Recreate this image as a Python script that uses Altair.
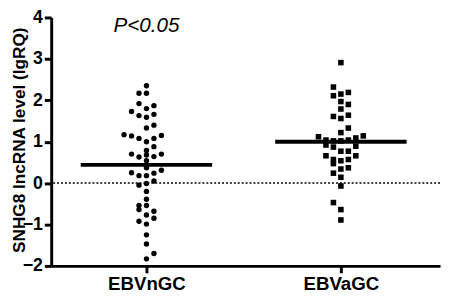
import altair as alt
import pandas as pd

# ---- data ----
categories = ["EBVnGC", "EBVaGC"]

ebvn_values = [2.35, 2.17, 2.17, 1.92, 1.87, 1.73, 1.80, 1.63, 1.59, 1.66,
               1.33, 1.40, 1.17, 1.14, 1.08, 1.00, 1.08, 1.15, 0.79, 0.88,
               0.70, 0.63, 0.68, 0.64, 0.70, 0.54, 0.37, 0.25, 0.18, 0.18,
               0.24, 0.31, -0.01, 0.05, -0.05, -0.20, -0.39, -0.54, -0.54, -0.64,
               -0.77, -0.68, -0.85, -0.92, -0.99, -1.25, -1.47, -1.83, -1.70]
ebvn_slots = [0, -1, 0, -1, 1, -2, 0, -1, 0, 1,
              0, 1, -3, -2, -1, 0, 1, 2, 0, 1,
              -2, -1, 0, 1, 2, 0, 0, -2, -1, 0,
              1, 2, 0, 1, -1, 0, 0, -1, 0, -1,
              0, 1, 1, -1, 0, 0, 0, 0, 1]

ebva_values = [2.91, 2.32, 2.11, 2.15, 2.19, 1.97, 1.90, 1.79, 1.61, 1.56,
               1.64, 1.33, 1.22, 1.12, 1.14, 1.04, 1.02, 1.02, 1.04, 1.09,
               0.92, 0.87, 0.89, 0.77, 0.77, 0.66, 0.66, 0.57, 0.54, 0.57,
               0.47, 0.34, 0.37, 0.24, 0.14, -0.07, -0.47, -0.64, -0.89]
ebva_slots = [0, -1, -1, 0, 1, 0, 1, 0, -1, 0,
              1, 1, 0, -3, 3, -2, -1, 0, 1, 2,
              -2, -1, 2, 0, 1, -2, 2, -1, 0, 1,
              -1, 0, 1, -1, 0, 0, -1, 0, 0]

group_means = [0.44, 1.00]
annotation = "P<0.05"

# ---- build tables ----
STEP = 0.0384
HALF = 0.338
W, H = 396, 253

pts_n = pd.DataFrame({"group": 1, "value": ebvn_values, "slot": ebvn_slots})
pts_a = pd.DataFrame({"group": 2, "value": ebva_values, "slot": ebva_slots})
mean_df = pd.DataFrame({"group": [1, 2], "mean": group_means})
zero_df = pd.DataFrame({"y": [0]})
ann_df = pd.DataFrame({"x": [1], "y": [3.8], "t": [annotation]})

FONT = "Liberation Sans"

xscale = alt.Scale(domain=[0.51, 2.51], nice=False, zero=False)
yscale = alt.Scale(domain=[-2, 4], nice=False, zero=False)

label_expr = "datum.value == 1 ? '%s' : '%s'" % (categories[0], categories[1])

xaxis = alt.Axis(values=[1, 2], labelExpr=label_expr, title=None, grid=False,
                 domainWidth=3, domainColor="black", tickWidth=3, tickSize=7,
                 tickColor="black", labelFont=FONT, labelFontSize=19,
                 labelFontWeight="bold", labelColor="black", labelPadding=2)
yaxis = alt.Axis(values=[-2, -1, 0, 1, 2, 3, 4], title="SNHG8 lncRNA level (lgRQ)",
                 grid=False, domainWidth=3, domainColor="black", tickWidth=3,
                 tickSize=7, tickColor="black", labelFont=FONT, labelFontSize=18,
                 labelFontWeight="bold", labelColor="black", labelPadding=2,
                 titleFont=FONT, titleFontSize=17.5, titleFontWeight="bold",
                 titleColor="black", titleAngle=270, titleX=-32, titleY=H / 2 - 2,
                 titleAlign="center", titleBaseline="middle")

dots = alt.Chart(pts_n).transform_calculate(
    xpos="datum.group + datum.slot * %f" % STEP
).mark_circle(size=30, opacity=1, color="black").encode(
    x=alt.X("xpos:Q", scale=xscale, axis=xaxis),
    y=alt.Y("value:Q", scale=yscale, axis=yaxis),
)

squares = alt.Chart(pts_a).transform_calculate(
    xpos="datum.group + datum.slot * %f" % STEP
).mark_square(size=32, opacity=1, color="black").encode(
    x=alt.X("xpos:Q", scale=xscale),
    y=alt.Y("value:Q", scale=yscale),
)

means = alt.Chart(mean_df).transform_calculate(
    x1="datum.group - %f" % HALF, x2="datum.group + %f" % HALF
).mark_rule(color="black", strokeWidth=4).encode(
    x=alt.X("x1:Q", scale=xscale),
    x2="x2:Q",
    y=alt.Y("mean:Q", scale=yscale),
)

zero = alt.Chart(zero_df).mark_rule(color="black", strokeWidth=1.5, strokeDash=[2, 2]).encode(
    y=alt.Y("y:Q", scale=yscale)
)

ann = alt.Chart(ann_df).mark_text(font=FONT, fontSize=21, fontStyle="italic",
                                  color="black", align="center", baseline="middle").encode(
    x=alt.X("x:Q", scale=xscale),
    y=alt.Y("y:Q", scale=yscale),
    text="t:N",
)

chart = alt.layer(zero, means, dots, squares, ann).properties(
    width=W, height=H,
    autosize=alt.AutoSizeParams(type="none"),
    padding={"left": 44, "top": 7, "right": 2, "bottom": 29},
).configure_view(stroke=None)

chart.save("out.html", embed_options={"renderer": "svg", "actions": False})
